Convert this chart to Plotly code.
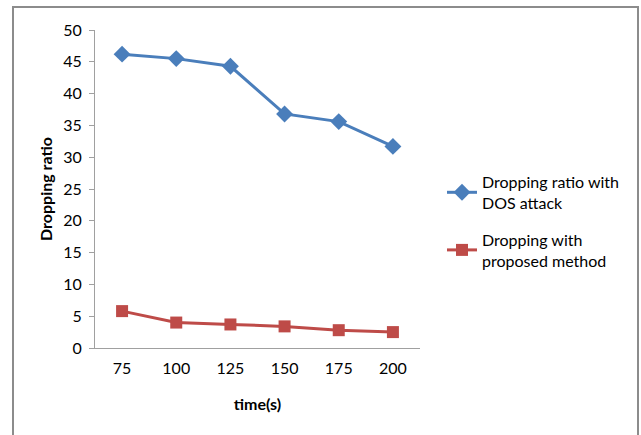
import plotly.graph_objects as go

categories = ["75", "100", "125", "150", "175", "200"]
dos_attack = [46.2, 45.5, 44.3, 36.8, 35.6, 31.7]
proposed = [5.8, 4.0, 3.7, 3.4, 2.8, 2.5]
y_ticks = [0, 5, 10, 15, 20, 25, 30, 35, 40, 45, 50]

FONT = "Lato, 'Open Sans', sans-serif"
BLUE = "#4A7EBB"
RED = "#BE4B48"

fig = go.Figure()
fig.add_trace(go.Scatter(
    x=categories, y=dos_attack, mode="lines+markers",
    name="Dropping ratio with<br>DOS attack", legendgroup="g1",
    line=dict(color=BLUE, width=3),
    marker=dict(symbol="diamond", size=13, color=BLUE),
))
fig.add_trace(go.Scatter(
    x=categories, y=proposed, mode="lines+markers",
    name="Dropping with<br>proposed method", legendgroup="g2",
    line=dict(color=RED, width=3),
    marker=dict(symbol="square", size=12, color=RED),
))

L, R, T, B = 95, 221, 30, 87
W, H = 641, 435
pw, ph = W - L - R, H - T - B

fig.update_layout(
    width=W, height=H,
    margin=dict(l=L, r=R, t=T, b=B, pad=0),
    paper_bgcolor="white", plot_bgcolor="white",
    font=dict(family=FONT, size=16, color="#000000"),
    showlegend=True,
    legend=dict(
        x=(442 - 95) / pw, y=(348 - 165) / ph, xanchor="left", yanchor="top",
        font=dict(family=FONT, size=16, color="#000"),
        tracegroupgap=13, itemwidth=30, bgcolor="rgba(0,0,0,0)",
    ),
    xaxis=dict(
        type="category", showgrid=False, showline=True, linecolor="#A0A0A0", linewidth=1,
        ticks="", tickfont=dict(size=16), range=[-0.5, 5.5], ticklabelstandoff=6,
        title=dict(text="<b>time(s)</b>", font=dict(size=16), standoff=22),
    ),
    yaxis=dict(
        range=[0, 50], tickvals=y_ticks, showgrid=False, showline=True,
        linecolor="#A0A0A0", linewidth=1, ticks="outside", ticklen=5, tickcolor="#A0A0A0",
        tickfont=dict(size=16), ticklabelstandoff=4,
        title=dict(text="<b>Dropping ratio</b>", font=dict(size=16), standoff=6),
    ),
    shapes=[dict(
        type="rect", xref="paper", yref="paper",
        x0=(13 - L) / pw, x1=(638 - L) / pw,
        y0=(H - 450 - B) / ph, y1=(H - 7 - B) / ph,
        line=dict(color="#8C8C8C", width=2), fillcolor="rgba(0,0,0,0)", layer="below",
    )],
)

fig.write_html("out.html")
